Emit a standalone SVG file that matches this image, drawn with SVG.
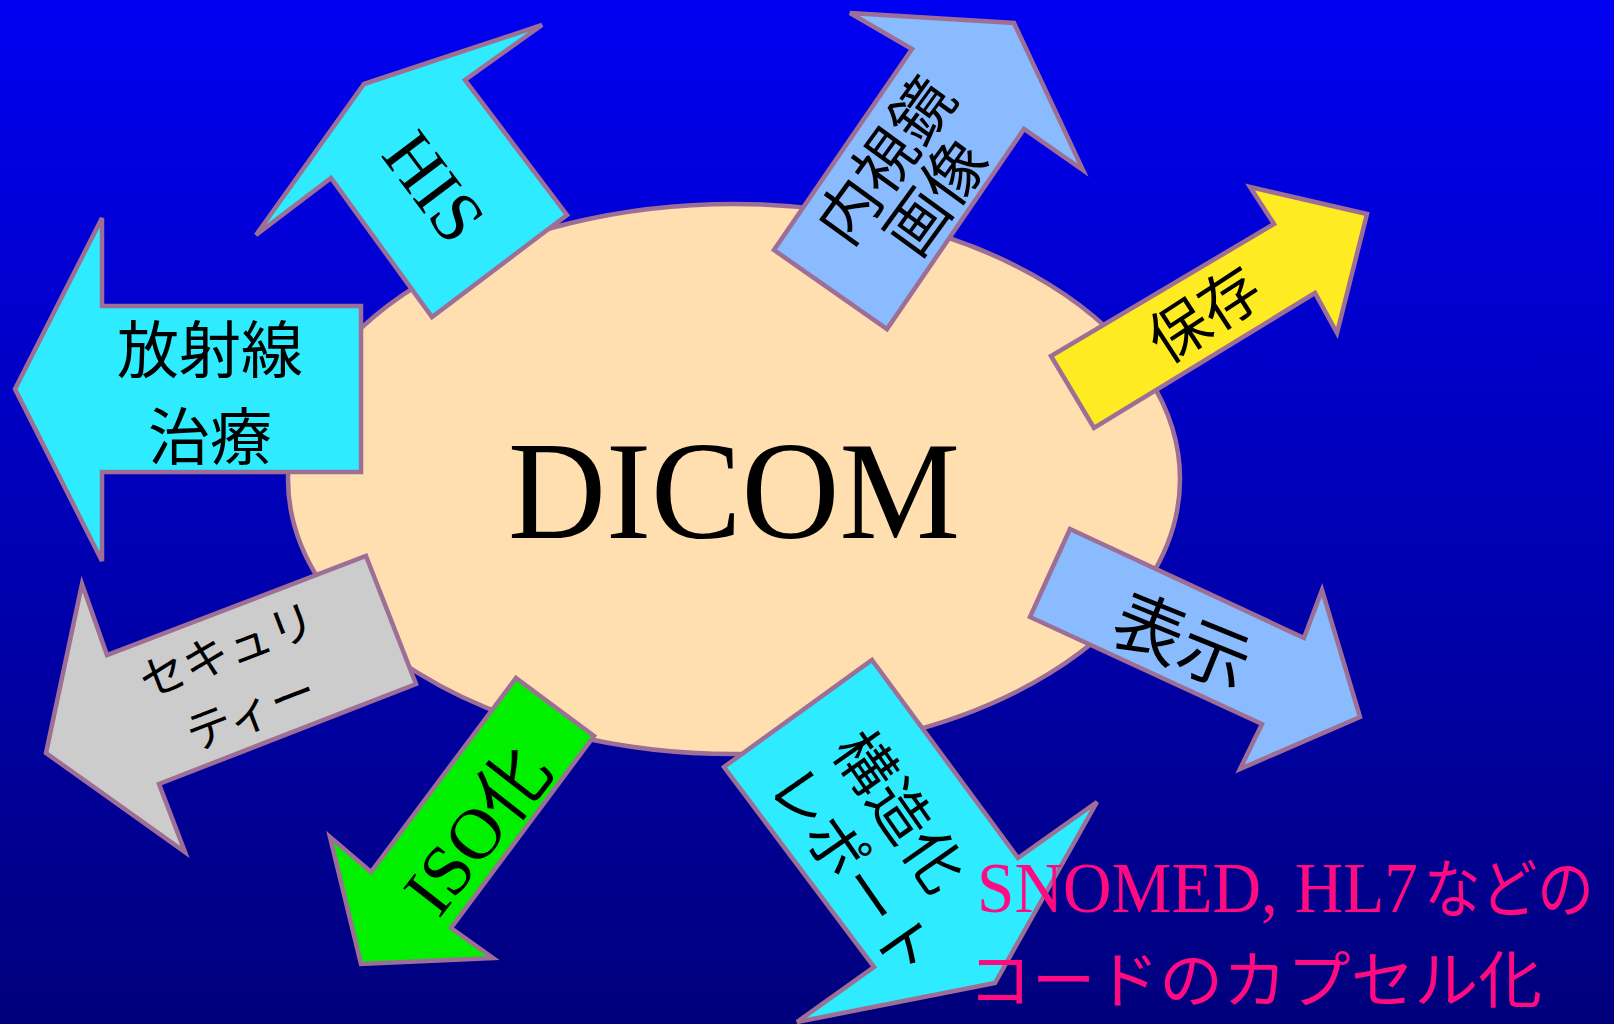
<svg xmlns="http://www.w3.org/2000/svg" width="1614" height="1024" viewBox="0 0 1614 1024">
  <defs>
    <linearGradient id="bg" x1="0" y1="0" x2="0" y2="1">
      <stop offset="0" stop-color="#0000F2"/>
      <stop offset="1" stop-color="#00007C"/>
    </linearGradient>
  </defs>
  <style>
    .arrow { stroke: #9E6F96; stroke-width: 4.5; stroke-linejoin: miter; }
    .cyan { fill: #2FEBFF; }
    .lblue { fill: #8ABBFF; }
    .yellow { fill: #FFEB22; }
    .green { fill: #00F000; }
    .gray { fill: #CCCCCC; }
    .lbl { font-family: "Liberation Serif", "Noto Sans CJK JP", serif; fill: #000; text-anchor: middle; }
    .note { font-family: "Liberation Serif", "Noto Sans CJK JP", serif; fill: #FF0A80; }
  </style>

  <rect x="0" y="0" width="1614" height="1024" fill="url(#bg)"/>

  <g id="dicom">
    <ellipse cx="734" cy="479" rx="446" ry="275" fill="#FFDEB0" stroke="#9E6F96" stroke-width="4.5"/>
    <text x="734" y="538" font-family="Liberation Serif, serif" font-size="139" text-anchor="middle" textLength="452" lengthAdjust="spacingAndGlyphs" fill="#000">DICOM</text>
  </g>

  <g id="connectors"></g>

  <g id="his">
    <polygon class="arrow cyan" points="364,84 542,25 465,80 567,215 432,317 331,178 256,235"/>
    <text class="lbl" font-size="72" transform="translate(434,187) rotate(53)" y="24">HIS</text>
  </g>

  <g id="radiotherapy">
    <polygon class="arrow cyan" points="15,389 102,218 102,306 361,306 361,472 102,472 102,561"/>
    <text class="lbl" font-size="62" x="210" y="373">放射線</text>
    <text class="lbl" font-size="62" x="210" y="460">治療</text>
  </g>

  <g id="endoscope">
    <polygon class="arrow lblue" points="850,13 1014,23 1083,170 1024,129 887,329 774,250 912,49"/>
    <g transform="translate(911,179) rotate(-54)">
      <text class="lbl" font-size="62" x="0" y="-9">内視鏡</text>
      <text class="lbl" font-size="62" x="0" y="53">画像</text>
    </g>
  </g>

  <g id="storage">
    <polygon class="arrow yellow" points="1250,187 1367,214 1337,333 1315,293 1094,428 1051,356 1274,224"/>
    <text class="lbl" font-size="60" transform="translate(1204,314) rotate(-33)" y="22">保存</text>
  </g>

  <g id="display">
    <polygon class="arrow lblue" points="1070,529 1304,638 1322,590 1360,717 1240,769 1262,724 1030,617"/>
    <text class="lbl" font-size="70" transform="translate(1182,642) rotate(22)" y="25">表示</text>
  </g>

  <g id="structured-report">
    <polygon class="arrow cyan" points="872,660 1018,858 1097,802 995,983 797,1022 874,967 724,767"/>
    <text class="lbl" font-size="60" transform="translate(900,811) rotate(55)" y="22">構造化</text>
    <text class="lbl" font-size="60" transform="translate(853,871) rotate(55)" y="22">レポート</text>
  </g>

  <g id="iso">
    <polygon class="arrow green" points="516,678 594,736 451,928 493,958 361,964 330,837 371,872"/>
    <text class="lbl" font-size="72" transform="translate(477,830) rotate(-52)" y="25">ISO化</text>
  </g>

  <g id="security">
    <polygon class="arrow gray" points="366,556 416,684 159,784 185,852 46,753 82,584 107,655"/>
    <g transform="translate(239,681) rotate(-21)">
      <text class="lbl" font-size="46" x="0" y="-16">セキュリ</text>
      <text class="lbl" font-size="46" x="0" y="50">ティー</text>
    </g>
  </g>

  <g id="note">
    <text class="note" font-size="71" y="912"><tspan x="977" textLength="441" lengthAdjust="spacingAndGlyphs">SNOMED, HL7</tspan><tspan x="1424" font-size="64" textLength="170" lengthAdjust="spacingAndGlyphs">などの</tspan></text>
    <text class="note" font-size="62" x="968" y="1003" textLength="574" lengthAdjust="spacingAndGlyphs">コードのカプセル化</text>
  </g>
</svg>
